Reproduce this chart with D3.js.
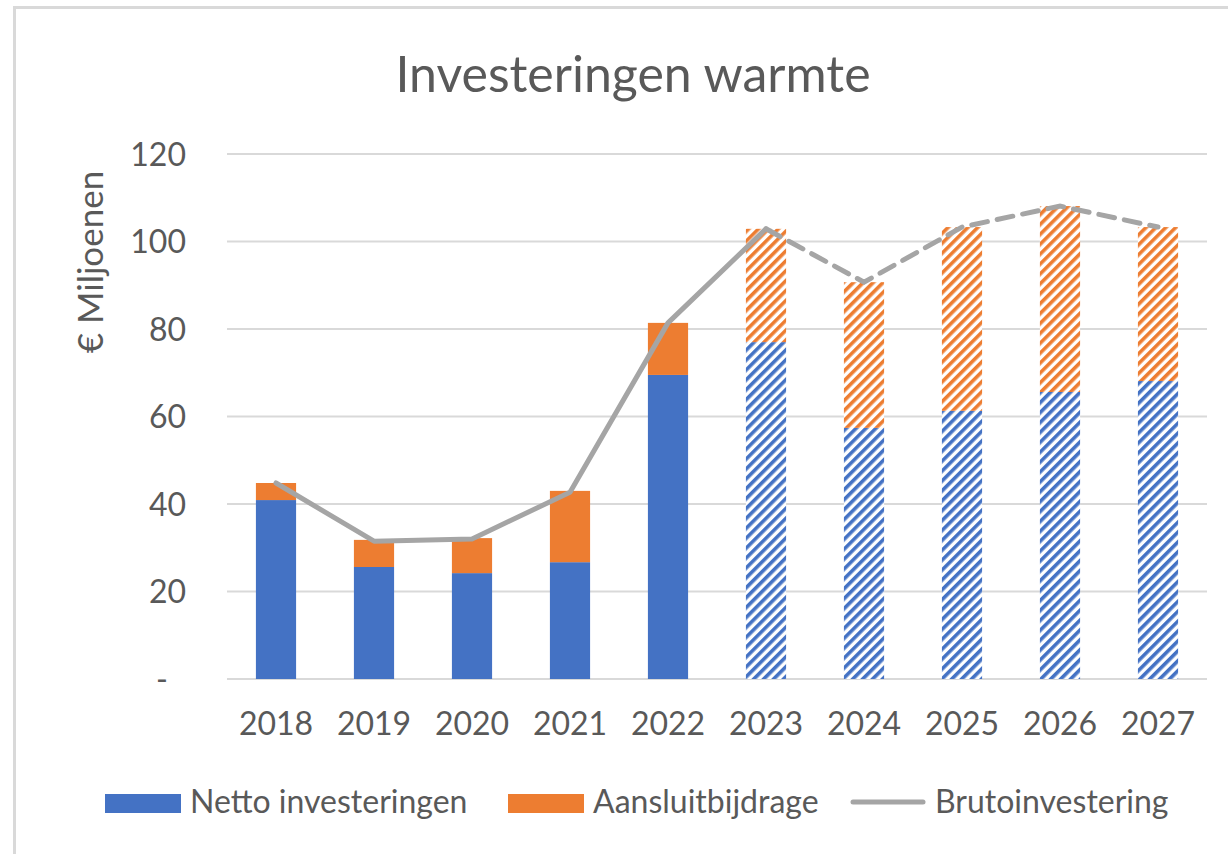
<!DOCTYPE html>
<html>
<head>
<meta charset="utf-8">
<script src="https://cdn.jsdelivr.net/npm/d3@7"></script>
<style>
  body { margin: 0; background: #fff; }
  text { font-family: Lato, "Open Sans", sans-serif; fill: #595959; }
</style>
</head>
<body>
<div id="chart"></div>
<script>
const years = ["2018", "2019", "2020", "2021", "2022", "2023", "2024", "2025", "2026", "2027"];
const netto = [40.9, 25.6, 24.2, 26.7, 69.5, 77.0, 57.4, 61.3, 65.6, 68.1];
const aansluit = [3.9, 6.2, 8.0, 16.3, 11.9, 25.9, 33.3, 42.0, 42.5, 35.2];
const bruto = [44.8, 31.5, 32.0, 42.7, 81.4, 102.9, 90.7, 103.3, 108.1, 103.3];
const forecastFrom = "2023";
const yTicks = [0, 20, 40, 60, 80, 100, 120];
const seriesNames = ["Netto investeringen", "Aansluitbijdrage", "Brutoinvestering"];

const W = 1228, H = 854;
const margin = { top: 154, right: 21, bottom: 175, left: 227 },
    width = W - margin.left - margin.right,
    height = H - margin.top - margin.bottom;

const blue = "#4472C4", orange = "#ED7D31", grey = "#A5A5A5";

const root = d3.select("#chart").append("svg")
    .attr("width", W)
    .attr("height", H);

// outer chart border
root.append("rect")
    .attr("x", 14.5).attr("y", 7.5)
    .attr("width", W).attr("height", H)
    .attr("fill", "none")
    .attr("stroke", "#D9D9D9")
    .attr("stroke-width", 3);

// hatch patterns for forecast years
const defs = root.append("defs");
[["hatch-blue", blue], ["hatch-orange", orange]].forEach(([id, c]) => {
    const p = defs.append("pattern")
        .attr("id", id)
        .attr("patternUnits", "userSpaceOnUse")
        .attr("width", 7).attr("height", 7)
        .attr("patternTransform", "rotate(-45)");
    p.append("rect").attr("width", 7).attr("height", 7).attr("fill", "#fff");
    p.append("rect").attr("width", 7).attr("height", 3.6).attr("fill", c);
});

root.append("text")
    .attr("x", 633).attr("y", 92)
    .attr("text-anchor", "middle")
    .style("font-size", "50px")
    .text("Investeringen warmte");

const svg = root.append("g")
    .attr("transform", `translate(${margin.left},${margin.top})`);

const x = d3.scaleBand()
    .domain(years)
    .range([0, width])
    .paddingInner(0.59)
    .paddingOuter(0.295);

const y = d3.scaleLinear()
    .domain([0, 120])
    .range([height, 0]);

// gridlines
svg.append("g")
    .selectAll("line")
    .data(yTicks)
    .join("line")
    .attr("x1", 0).attr("x2", width)
    .attr("y1", d => y(d)).attr("y2", d => y(d))
    .attr("stroke", "#D9D9D9")
    .attr("stroke-width", 2);

// y tick labels
svg.append("g")
    .selectAll("text")
    .data(yTicks)
    .join("text")
    .attr("x", d => d === 0 ? -59 : -41)
    .attr("y", d => y(d))
    .attr("dy", "0.36em")
    .attr("text-anchor", "end")
    .style("font-size", "32px")
    .text(d => d === 0 ? "-" : d);

// x tick labels
svg.append("g")
    .selectAll("text")
    .data(years)
    .join("text")
    .attr("x", d => x(d) + x.bandwidth() / 2)
    .attr("y", height + 56)
    .attr("text-anchor", "middle")
    .style("font-size", "32px")
    .text(d => d);

root.append("text")
    .attr("transform", "translate(103,262) rotate(-90)")
    .attr("text-anchor", "middle")
    .style("font-size", "35px")
    .text("€ Miljoenen");

const isForecast = yr => +yr >= +forecastFrom;

// stacked bars
years.forEach((yr, i) => {
    const f = isForecast(yr);
    svg.append("rect")
        .attr("x", x(yr))
        .attr("y", y(netto[i]))
        .attr("width", x.bandwidth())
        .attr("height", y(0) - y(netto[i]))
        .attr("fill", f ? "url(#hatch-blue)" : blue);
    svg.append("rect")
        .attr("x", x(yr))
        .attr("y", y(netto[i] + aansluit[i]))
        .attr("width", x.bandwidth())
        .attr("height", y(netto[i]) - y(netto[i] + aansluit[i]))
        .attr("fill", f ? "url(#hatch-orange)" : orange);
});

// bruto line: solid for actuals, dashed for forecast
const pts = years.map((yr, i) => ({ yr, v: bruto[i] }));
const line = d3.line()
    .x(d => x(d.yr) + x.bandwidth() / 2)
    .y(d => y(d.v));
const split = years.indexOf(forecastFrom);

svg.append("path")
    .datum(pts.slice(0, split + 1))
    .attr("d", line)
    .attr("fill", "none")
    .attr("stroke", grey)
    .attr("stroke-width", 5)
    .attr("stroke-linejoin", "round")
    .attr("stroke-linecap", "round");

svg.append("path")
    .datum(pts.slice(split))
    .attr("d", line)
    .attr("fill", "none")
    .attr("stroke", grey)
    .attr("stroke-width", 5)
    .attr("stroke-dasharray", "16,10")
    .attr("stroke-linecap", "round");

// legend
const legend = root.append("g");
const lx = [105, 508, 850];
legend.append("rect").attr("x", lx[0]).attr("y", 794).attr("width", 76).attr("height", 19).attr("fill", blue);
legend.append("rect").attr("x", lx[1]).attr("y", 794).attr("width", 76).attr("height", 19).attr("fill", orange);
legend.append("line").attr("x1", lx[2] + 3).attr("x2", lx[2] + 73).attr("y1", 802).attr("y2", 802)
    .attr("stroke", grey).attr("stroke-width", 5).attr("stroke-linecap", "round");
seriesNames.forEach((n, i) => {
    legend.append("text")
        .attr("x", lx[i] + 85)
        .attr("y", 813)
        .style("font-size", "32px")
        .text(n);
});
</script>
</body>
</html>
